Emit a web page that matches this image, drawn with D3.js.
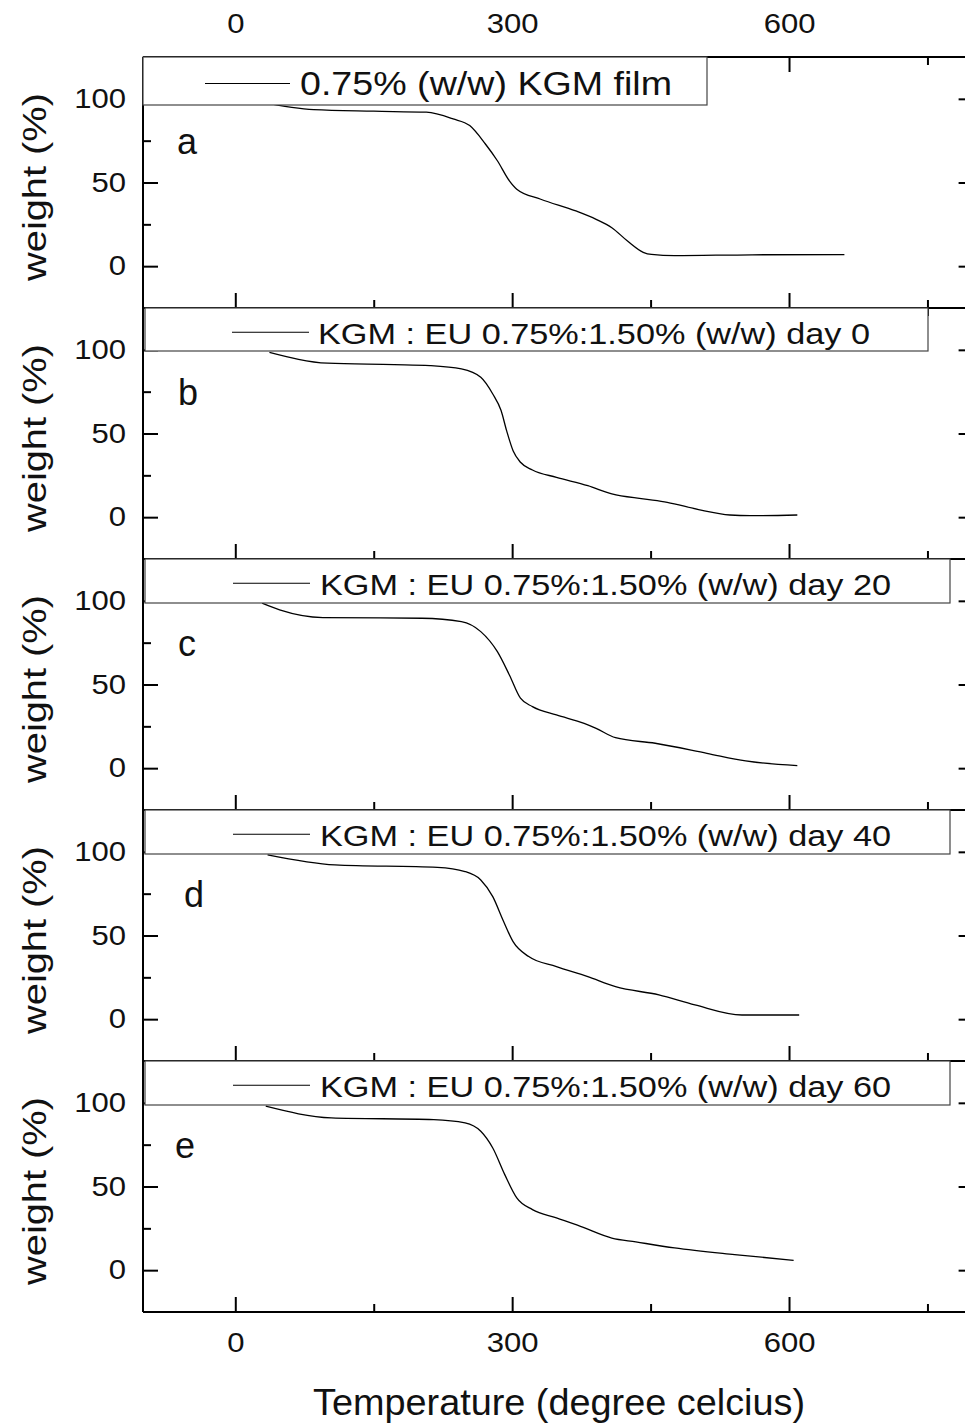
<!DOCTYPE html>
<html>
<head>
<meta charset="utf-8">
<script src="https://cdn.jsdelivr.net/npm/d3@7.9.0/dist/d3.min.js"></script>
<style>
  body { margin: 0; background: #fff; overflow: hidden; }
  text { font-family: "Liberation Sans", Arial, sans-serif; fill: #111; }
</style>
</head>
<body>
<svg id="chart" width="965" height="1424"></svg>
<script>
// TGA curves (temperature in degree C, weight in %)
const tempA = [28, 85, 150, 207, 236, 254, 271, 284, 297, 305, 331, 369, 391, 408, 425, 442, 451, 476, 560, 660];
const weightA = [98, 93.5, 92.6, 92, 88, 84, 73, 63, 51, 46, 40, 33, 28, 23, 15, 8.3, 7, 6.3, 6.8, 6.9];

const tempB = [37, 100, 172, 211, 245, 266, 279, 288, 294, 301, 309, 322, 348, 382, 408, 442, 468, 502, 536, 558, 609];
const weightB = [98.5, 92, 91.2, 90.6, 88.6, 83.6, 73.6, 63.7, 51.7, 39.7, 32.8, 28.2, 23.8, 18.8, 13.9, 10.9, 8.9, 4.5, 1.3, 0.9, 1.3];

const tempC = [29, 48, 95, 202, 245, 266, 284, 297, 309, 322, 348, 378, 391, 412, 455, 511, 553, 609];
const weightC = [98.6, 94.6, 90, 89.6, 87.6, 81.6, 69.6, 55.7, 41.8, 36.8, 31.8, 26.8, 23.8, 18.2, 14.9, 8.9, 4.3, 1.5];

const tempD = [35, 108, 219, 249, 266, 279, 290, 301, 318, 348, 382, 412, 459, 498, 549, 611];
const weightD = [98.2, 92.2, 90.7, 88.2, 83.2, 73.2, 59.3, 46.3, 37.4, 31.4, 25.4, 19.4, 14.5, 8.5, 2.5, 2.5];

const tempE = [33, 104, 215, 249, 266, 279, 292, 305, 322, 348, 374, 408, 434, 476, 541, 605];
const weightE = [98, 91, 90, 88, 83, 73, 57.1, 43.2, 36.2, 31.2, 26.2, 19.2, 16.9, 13.3, 9.3, 5.9];

const panelLetters = ['a', 'b', 'c', 'd', 'e'];
const legendLabels = [
  '0.75% (w/w) KGM film',
  'KGM : EU 0.75%:1.50% (w/w) day 0',
  'KGM : EU 0.75%:1.50% (w/w) day 20',
  'KGM : EU 0.75%:1.50% (w/w) day 40',
  'KGM : EU 0.75%:1.50% (w/w) day 60'
];
const xMajor = [0, 300, 600];
const xMinor = [150, 450, 750];
const yMajor = [0, 50, 100];
const yMinor = [25, 75];
const xTitle = 'Temperature (degree celcius)';
const yTitle = 'weight (%)';

const series = [
  [tempA, weightA], [tempB, weightB], [tempC, weightC], [tempD, weightD], [tempE, weightE]
];

// layout
const W = 965;
const plotLeft = 143;
const plotRight = 973.6;
const firstTop = 57;
const panelH = 251;
// legend boxes: [x0, x1, height, line x0, line x1, text x, text width, font size]
const legendBoxes = [
  [143, 707, 48, 205, 290, 300, 372, 33],
  [145, 928, 43, 232, 309, 318, 552, 30],
  [145, 950, 44, 233, 310, 320, 571, 30],
  [145, 950, 44, 233, 310, 320, 571, 30],
  [145, 950, 44, 233, 310, 320, 571, 30]
];
const letterX = [177, 178, 178, 184, 175];

const svg = d3.select('#chart');
const x = d3.scaleLinear().domain([-100, 800]).range([plotLeft, plotRight]);

const tickFont = 27;
const stretch = 1.15;

function styleAxis(g) {
  g.select('.domain').remove();
  g.selectAll('line').attr('stroke', '#000').attr('stroke-width', 2);
}

const frames = svg.append('g');
const curves = svg.append('g');
const legends = svg.append('g');

series.forEach(([temps, weights], i) => {
  const top = firstTop + i * panelH;
  const bottom = top + panelH;
  const y = d3.scaleLinear().domain([-25, 125]).range([bottom, top]);

  // ticks, all pointing inward
  const addAxis = (axis, tx, ty) =>
    frames.append('g').attr('transform', `translate(${tx},${ty})`).call(axis).call(styleAxis);

  addAxis(d3.axisBottom(x).tickValues(xMajor).tickSize(15).tickFormat(''), 0, top);
  addAxis(d3.axisBottom(x).tickValues(xMinor).tickSize(8).tickFormat(''), 0, top);
  addAxis(d3.axisTop(x).tickValues(xMajor).tickSize(15).tickFormat(''), 0, bottom);
  addAxis(d3.axisTop(x).tickValues(xMinor).tickSize(8).tickFormat(''), 0, bottom);
  addAxis(d3.axisRight(y).tickValues(yMajor).tickSize(15).tickFormat(''), plotLeft, 0);
  addAxis(d3.axisRight(y).tickValues(yMinor).tickSize(8).tickFormat(''), plotLeft, 0);
  addAxis(d3.axisLeft(y).tickValues(yMajor).tickSize(15).tickFormat(''), plotRight, 0);
  addAxis(d3.axisLeft(y).tickValues(yMinor).tickSize(8).tickFormat(''), plotRight, 0);

  // y tick labels
  const yl = frames.append('g').attr('transform', `translate(${plotLeft},0)`)
    .call(d3.axisLeft(y).tickValues(yMajor).tickSize(0).tickPadding(17));
  yl.select('.domain').remove();
  yl.selectAll('text')
    .attr('font-size', tickFont)
    .attr('fill', '#111')
    .attr('x', -17 / stretch)
    .attr('transform', `scale(${stretch},1)`);

  // frame lines top / bottom
  [top, bottom].forEach(yy => {
    frames.append('line')
      .attr('x1', plotLeft).attr('x2', plotRight)
      .attr('y1', yy).attr('y2', yy)
      .attr('stroke', '#000').attr('stroke-width', 2);
  });

  // y title
  frames.append('text')
    .attr('transform', `translate(46,${top + 130}) rotate(-90)`)
    .attr('text-anchor', 'middle')
    .attr('font-size', 34)
    .attr('textLength', 188)
    .attr('lengthAdjust', 'spacingAndGlyphs')
    .text(yTitle);

  // curve
  const pts = temps.map((t, k) => [t, weights[k]]);
  curves.append('path')
    .datum(pts)
    .attr('fill', 'none')
    .attr('stroke', '#000')
    .attr('stroke-width', 1.3)
    .attr('d', d3.line().x(d => x(d[0])).y(d => y(d[1])).curve(d3.curveMonotoneX));

  // panel letter
  curves.append('text')
    .attr('x', letterX[i])
    .attr('y', top + 97)
    .attr('font-size', 36)
    .text(panelLetters[i]);

  // legend box
  const [bx0, bx1, bh, lx0, lx1, tx, tw, fs] = legendBoxes[i];
  legends.append('rect')
    .attr('x', bx0).attr('y', top)
    .attr('width', bx1 - bx0).attr('height', bh)
    .attr('fill', '#fff')
    .attr('stroke', '#444').attr('stroke-width', 1.2);
  const ly = top + (i === 0 ? 26.5 : 24.3);
  legends.append('line')
    .attr('x1', lx0).attr('x2', lx1)
    .attr('y1', ly).attr('y2', ly)
    .attr('stroke', '#000').attr('stroke-width', 1.1);
  legends.append('text')
    .attr('x', tx)
    .attr('y', top + (i === 0 ? 38 : 36))
    .attr('font-size', fs)
    .attr('textLength', tw)
    .attr('lengthAdjust', 'spacingAndGlyphs')
    .text(legendLabels[i]);
});

const lastBottom = firstTop + series.length * panelH;

// left axis line across all panels
frames.append('line')
  .attr('x1', plotLeft).attr('x2', plotLeft)
  .attr('y1', firstTop).attr('y2', lastBottom)
  .attr('stroke', '#000').attr('stroke-width', 2);

// top tick labels
const topAx = svg.append('g').attr('transform', `translate(0,${firstTop})`)
  .call(d3.axisTop(x).tickValues(xMajor).tickSize(0).tickPadding(24));
topAx.select('.domain').remove();
topAx.selectAll('text').attr('font-size', tickFont).attr('fill', '#111')
  .attr('transform', `scale(${stretch},1)`);

// bottom tick labels
const botAx = svg.append('g').attr('transform', `translate(0,${lastBottom})`)
  .call(d3.axisBottom(x).tickValues(xMajor).tickSize(0).tickPadding(21));
botAx.select('.domain').remove();
botAx.selectAll('text').attr('font-size', tickFont).attr('fill', '#111')
  .attr('transform', `scale(${stretch},1)`);

// x title
svg.append('text')
  .attr('x', 313)
  .attr('y', 1415)
  .attr('font-size', 37)
  .attr('textLength', 492)
  .attr('lengthAdjust', 'spacingAndGlyphs')
  .text(xTitle);
</script>
</body>
</html>
